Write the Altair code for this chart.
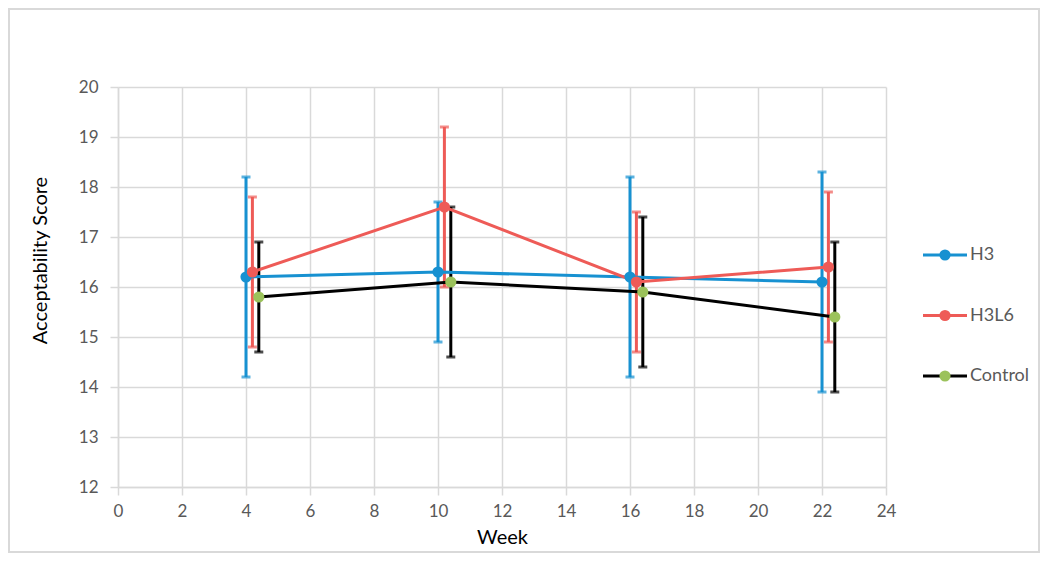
import altair as alt
import pandas as pd

# ---- data ----
series_names = ["H3", "H3L6", "Control"]
weeks = [4, 10, 16, 22]
offsets = [0.0, 0.2, 0.4]
h3_mean = [16.2, 16.3, 16.2, 16.1]
h3_err = [2.0, 1.4, 2.0, 2.2]
h3l6_mean = [16.3, 17.6, 16.1, 16.4]
h3l6_err = [1.5, 1.6, 1.4, 1.5]
ctrl_mean = [15.8, 16.1, 15.9, 15.4]
ctrl_err = [1.1, 1.5, 1.5, 1.5]

line_colors = ["#1791d1", "#ee5b57", "#000000"]
fill_colors = ["#1791d1", "#ee5b57", "#9bc25b"]

means = [h3_mean, h3l6_mean, ctrl_mean]
errs = [h3_err, h3l6_err, ctrl_err]
rows = []
for s, off, m, e in zip(series_names, offsets, means, errs):
    for w, mv, ev in zip(weeks, m, e):
        rows.append({"series": s, "week": w + off, "score": mv,
                     "lo": round(mv - ev, 2), "hi": round(mv + ev, 2)})
df = pd.DataFrame(rows)

FONT = "Lato"
color_scale = alt.Scale(domain=series_names, range=line_colors)
fill_scale = alt.Scale(domain=series_names, range=fill_colors)

x_enc = alt.X("week:Q", scale=alt.Scale(domain=[0, 24], nice=False, zero=False),
              axis=alt.Axis(values=list(range(0, 25, 2)), title="Week",
                            labelFlush=False, labelPadding=8, titlePadding=8))
y_enc = alt.Y("score:Q", scale=alt.Scale(domain=[12, 20], nice=False, zero=False),
              axis=alt.Axis(values=list(range(12, 21)), title="Acceptability Score",
                            labelPadding=12, labelFlush=False,
                            titleX=-78, titleY=173, titleAlign="center",
                            titleBaseline="middle"))

base = alt.Chart(df)
err_rule = base.mark_rule(strokeWidth=3).encode(
    x=x_enc, y=alt.Y("lo:Q"), y2="hi:Q",
    color=alt.Color("series:N", scale=color_scale, legend=None))
cap_lo = base.mark_tick(orient="horizontal", size=9, thickness=3).encode(
    x="week:Q", y="lo:Q",
    color=alt.Color("series:N", scale=color_scale, legend=None))
cap_hi = base.mark_tick(orient="horizontal", size=9, thickness=3).encode(
    x="week:Q", y="hi:Q",
    color=alt.Color("series:N", scale=color_scale, legend=None))
lines = base.mark_line(strokeWidth=3).encode(
    x=x_enc, y=y_enc,
    color=alt.Color("series:N", scale=color_scale, legend=None),
    detail="series:N", order="week:Q")
points = base.mark_circle(size=125, opacity=1).encode(
    x="week:Q", y="score:Q",
    fill=alt.Fill("series:N", scale=fill_scale, legend=None))

data_layer = alt.layer(err_rule, cap_lo, cap_hi, lines, points)

# ---- custom legend (line + marker) ----
leg_df = pd.DataFrame({"series": series_names})
leg_y = alt.Y("series:N", sort=series_names,
              scale=alt.Scale(type="point", range=[168, 289], padding=0), axis=None)
leg_base = alt.Chart(leg_df)
leg_line = leg_base.mark_rule(strokeWidth=3).encode(
    x=alt.value(805), x2=alt.value(849), y=leg_y,
    color=alt.Color("series:N", scale=color_scale, legend=None))
leg_pt = leg_base.mark_circle(size=125, opacity=1).encode(
    x=alt.value(827), y=leg_y,
    fill=alt.Fill("series:N", scale=fill_scale, legend=None))
leg_txt = leg_base.mark_text(align="left", baseline="middle", font=FONT,
                             fontSize=18, color="#595959").encode(
    x=alt.value(852), y=leg_y, text="series:N")
legend_layer = alt.layer(leg_line, leg_pt, leg_txt)

# ---- outer frame ----
frame = alt.Chart(pd.DataFrame({"a": [0]})).mark_rect(
    fill="transparent", stroke="#d9d9d9", strokeWidth=2).encode(
    x=alt.value(-109), x2=alt.value(921), y=alt.value(-78), y2=alt.value(465))

chart = alt.layer(frame, data_layer, legend_layer).resolve_scale(
    y="independent"
).properties(
    width=768, height=400,
    autosize=alt.AutoSizeParams(type="none"),
    padding={"left": 110, "top": 79, "right": 156, "bottom": 66},
).configure_view(strokeWidth=0).configure_axis(
    grid=True, gridColor="#d9d9d9", gridWidth=1.5,
    domainColor="#d9d9d9", domainWidth=1.5,
    tickColor="#d9d9d9", tickSize=8, tickWidth=1.5,
    labelColor="#595959", labelFontSize=17, labelFont=FONT,
    titleFont=FONT, titleFontSize=20, titleFontWeight="normal", titleColor="#000000",
).configure_text(font=FONT)

chart.save("out.html", embed_options={"renderer": "svg", "actions": False})
